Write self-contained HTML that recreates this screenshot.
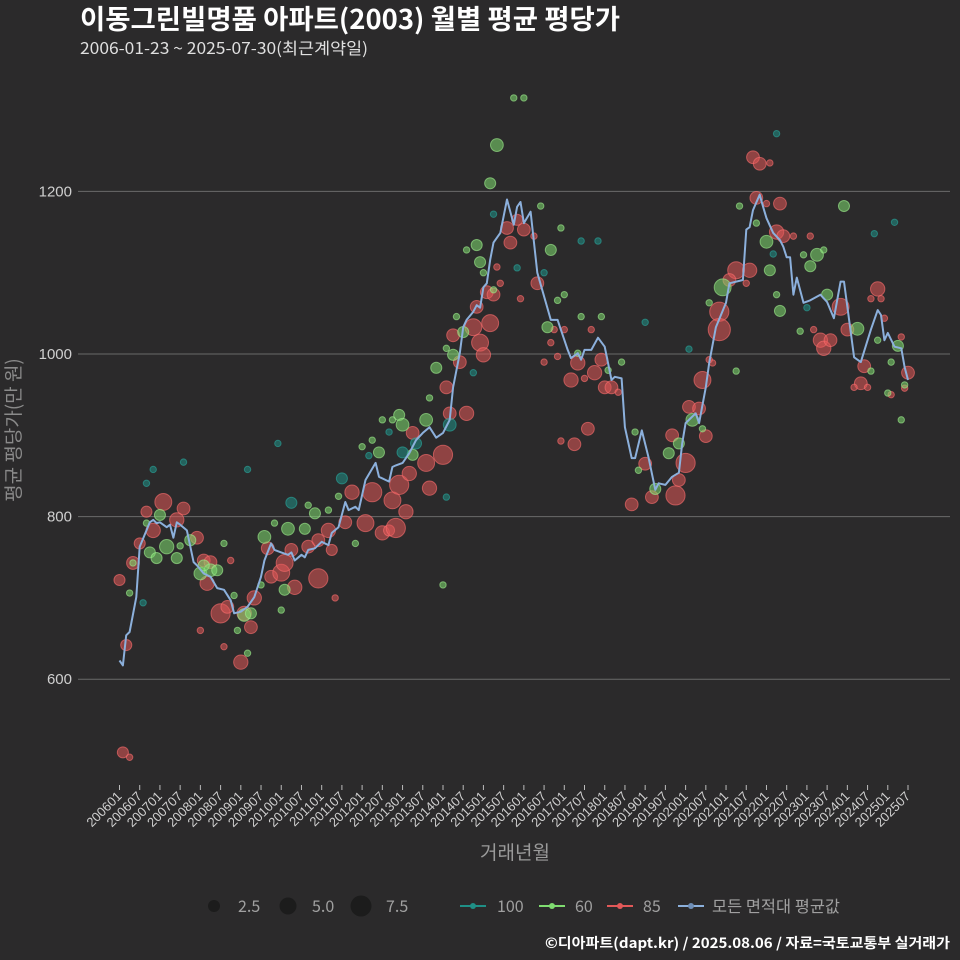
<!DOCTYPE html>
<html><head><meta charset="utf-8">
<style>
html,body{margin:0;padding:0;background:#2b2a2b;}
svg{display:block;font-family:"Liberation Sans","Noto Sans CJK KR",sans-serif;}
</style></head>
<body>
<svg id="chart" width="960" height="960" viewBox="0 0 960 960">
<rect x="0" y="0" width="960" height="960" fill="#2b2a2b"/>
<text x="80" y="29" fill="#ffffff" font-size="27" font-weight="bold" font-family="Noto Sans CJK KR, sans-serif" textLength="540" lengthAdjust="spacingAndGlyphs">이동그린빌명품 아파트(2003) 월별 평균 평당가</text>
<text x="80" y="54" fill="#e0e0e0" font-size="16" font-family="Noto Sans CJK KR, sans-serif" textLength="288" lengthAdjust="spacingAndGlyphs">2006-01-23 ~ 2025-07-30(최근계약일)</text>
<g id="grid"></g>
<g id="yticks"></g>
<g id="xticks"></g>
<g id="bubbles"></g>
<g id="avgline"></g>
<text x="20" y="430" fill="#8a8a8a" font-size="19" text-anchor="middle" transform="rotate(-90 20 430)" font-family="Noto Sans CJK KR, sans-serif">평균 평당가(만 원)</text>
<text x="515" y="859" fill="#9a9a9a" font-size="19" text-anchor="middle" font-family="Noto Sans CJK KR, sans-serif">거래년월</text>
<g id="legend" font-family="Noto Sans CJK KR, sans-serif" font-size="16" fill="#a0a0a0">
  <g><circle cx="214" cy="906" r="6" fill="#1c1c1c"/><text x="238" y="912">2.5</text></g>
  <g><circle cx="288" cy="906" r="8.5" fill="#1c1c1c"/><text x="312" y="912">5.0</text></g>
  <g><circle cx="361" cy="906" r="10.5" fill="#1c1c1c"/><text x="386" y="912">7.5</text></g>
  <g><line x1="460" y1="906" x2="486" y2="906" stroke="#1f8f86" stroke-width="2"/><circle cx="473" cy="906" r="3" fill="#1f8f86"/><text x="497" y="912">100</text></g>
  <g><line x1="539" y1="906" x2="565" y2="906" stroke="#7fdc70" stroke-width="2"/><circle cx="552" cy="906" r="3" fill="#7fdc70"/><text x="575" y="912">60</text></g>
  <g><line x1="607" y1="906" x2="633" y2="906" stroke="#e25858" stroke-width="2"/><circle cx="620" cy="906" r="3" fill="#e25858"/><text x="643" y="912">85</text></g>
  <g><line x1="678" y1="906" x2="704" y2="906" stroke="#8cb0dc" stroke-width="2"/><circle cx="691" cy="906" r="3" fill="#6f8fb8"/><text x="712" y="912" textLength="128" lengthAdjust="spacingAndGlyphs">모든 면적대 평균값</text></g>
</g>
<text x="950" y="948" fill="#ffffff" font-size="14" font-weight="bold" text-anchor="end" font-family="Noto Sans CJK KR, sans-serif" textLength="405" lengthAdjust="spacingAndGlyphs">©디아파트(dapt.kr) / 2025.08.06 / 자료=국토교통부 실거래가</text>
</svg>
<script>
// month index = months since 2006-01
const yTicks = [600, 800, 1000, 1200];
const xTickLabels = ["200601","200607","200701","200707","200801","200807","200901","200907","201001","201007","201101","201107","201201","201207","201301","201307","201401","201407","201501","201507","201601","201607","201701","201707","201801","201807","201901","201907","202001","202007","202101","202107","202201","202207","202301","202307","202401","202407","202501","202507"];
const avgMonths = [0,1,2,3,5,6,8,9,10,11,12,14,15,16,17,18,20,22,23,25,27,29,31,33,34,36,38,40,42,43,45,46,48,50,51,52,54,55,56,58,60,62,63,65,67,68,70,71,73,76,77,79,80,81,82,84,86,88,90,92,94,95,96,98,99,101,102,103,105,106,107,108,109,110,111,113,115,117,118,119,120,122,124,128,130,133,134,136,137,138,140,142,144,146,147,149,150,152,153,155,157,159,160,162,164,166,167,168,171,172,174,175,177,180,181,185,186,187,188,190,191,192,194,196,197,198,199,200,201,203,205,208,210,212,214,215,218,220,223,225,226,227,228,230,232,233,234];
const avgValues = [623,617,654,658,701,763,783,793,796,792,793,787,790,774,793,790,783,744,740,730,726,712,710,697,681,683,689,701,726,746,767,759,756,753,756,746,753,750,759,761,769,765,780,787,818,808,812,808,845,866,849,845,843,861,863,866,878,894,903,910,897,900,903,919,959,1001,1033,1042,1052,1060,1057,1082,1087,1116,1137,1149,1190,1159,1181,1187,1161,1175,1100,1042,1042,1005,995,1001,993,1005,1005,1020,1009,968,972,970,910,872,872,906,873,833,841,839,849,854,890,915,927,915,959,989,1033,1063,1087,1091,1153,1156,1177,1196,1181,1167,1149,1140,1132,1119,1119,1073,1094,1063,1066,1073,1064,1044,1089,1089,996,990,1030,1054,1048,1017,1026,1009,1007,984,968];

const redMonths = [0,2,4,6,8,13,10,19,17,23,25,27,26,30,32,36,39,40,37,24,31,33,44,45,48,52,49,51,56,59,59,62,63,64,67,69,73,75,78,80,81,82,83,85,86,87,91,92,96,97,98,103,99,101,105,107,108,110,106,109,111,115,116,112,113,120,118,123,124,119,129,132,128,126,130,136,134,141,138,143,144,146,148,140,139,135,131,152,156,158,164,165,166,168,169,172,174,173,178,178,183,187,181,176,175,186,188,190,193,189,196,192,195,197,200,206,208,209,211,214,216,225,223,226,221,220,218,222,227,232,234,229,233,205,1,3];
const redValues = [722,642,743,767,806,818,783,810,796,774,746,744,718,681,689,621,664,700,681,660,640,746,761,726,731,713,743,759,763,724,771,783,759,700,793,830,792,830,780,783,820,786,839,806,853,903,866,835,876,959,927,927,1023,990,1033,1014,999,1038,1058,1076,1073,1155,1137,1107,1087,1153,1165,1145,1087,1068,1030,1030,1014,990,997,989,968,977,970,993,959,959,953,1030,908,889,893,815,865,824,900,826,845,866,935,933,899,968,1052,1030,1103,1103,1091,989,993,1087,1242,1234,1235,1192,1185,1185,1150,1145,1145,1030,1017,1007,1017,1058,1030,1080,1068,1068,985,964,959,959,1044,1021,977,950,958,1145,510,504];
const redCounts = [3,3,4,3,3,7,5,4,5,4,4,4,5,9,4,5,4,5,5,1,1,1,4,4,7,5,7,4,4,9,4,5,3,1,4,5,7,9,5,3,7,9,9,5,5,4,7,5,9,4,4,5,4,4,7,7,5,7,4,4,4,4,4,1,1,4,3,1,4,1,1,1,1,1,1,5,5,5,1,4,4,4,1,1,4,4,1,4,4,4,4,9,4,9,4,4,4,7,9,12,7,5,4,1,1,1,4,4,1,4,4,1,5,4,1,1,5,5,4,7,4,5,1,1,4,4,1,1,1,1,4,1,1,1,3,1];

const greenMonths = [12,9,11,14,17,21,8,4,3,18,24,27,29,25,31,34,35,38,37,39,43,46,50,55,49,48,42,56,58,62,65,70,72,75,77,78,81,83,84,87,91,94,92,97,99,100,102,107,106,103,108,110,111,96,112,117,120,125,131,128,132,130,127,137,143,136,145,149,153,154,159,163,166,170,173,183,175,179,184,189,192,193,195,196,203,205,207,209,210,202,215,219,223,225,229,231,232,233,228];
const greenValues = [802,756,749,763,749,771,792,743,706,764,730,734,734,740,767,703,660,632,679,681,775,792,785,785,710,685,716,814,804,808,825,767,886,894,879,919,919,925,913,876,919,983,946,1007,999,1046,1027,1113,1134,1128,1100,1210,1079,716,1257,1315,1315,1182,1155,1128,1073,1066,1033,1046,1046,1001,980,990,904,857,834,878,890,919,908,979,1063,1082,1182,1161,1138,1103,1073,1053,1122,1108,1122,1128,1073,1028,1182,1031,979,1017,990,1010,919,962,952];
const greenCounts = [3,3,3,5,3,3,1,1,1,1,4,4,3,3,1,1,1,1,4,3,4,1,4,3,3,1,1,1,3,1,1,1,1,1,3,1,1,3,4,3,4,3,1,1,3,1,3,3,3,1,1,3,1,1,4,1,1,1,1,3,1,1,3,1,1,1,1,1,1,1,3,3,3,4,1,1,1,7,1,1,4,3,1,3,1,3,4,1,3,1,3,4,1,1,1,3,1,1,1];

const tealMonths = [7,8,10,19,38,47,51,66,74,80,84,88,98,97,105,111,118,126,137,142,156,169,194,195,204,224,230];
const tealValues = [694,841,858,867,858,890,817,847,875,904,879,890,913,824,977,1172,1106,1100,1139,1139,1039,1006,1123,1271,1057,1148,1162];
const tealCounts = [1,1,1,1,1,1,3,3,1,1,3,3,4,1,1,1,1,1,1,1,1,1,1,1,1,1,1];

const NS = "http://www.w3.org/2000/svg";
const X0 = 119.5, X1 = 908, M1 = 234;
function xScale(m){ return X0 + (X1 - X0) * m / M1; }
function yScale(v){ return 354 - (v - 1000) * (162.6 / 200); }
function rScale(n){ return 3.2 * Math.sqrt(n); }
function mk(tag, attrs, parent){
  const e = document.createElementNS(NS, tag);
  for (const k in attrs) e.setAttribute(k, attrs[k]);
  parent.appendChild(e);
  return e;
}

const grid = document.getElementById('grid');
const yt = document.getElementById('yticks');
yTicks.forEach(v => {
  const l = mk('line', {x1: 78, x2: 950, y1: yScale(v), y2: yScale(v), stroke: '#6a6a6a', 'stroke-width': 1}, grid);
  
  
  const t = mk('text', {x: 72, y: yScale(v) + 5, fill: '#cfcfcf', 'font-size': 15, 'text-anchor': 'end'}, yt);
  t.textContent = v;
  
  
});

const xt = document.getElementById('xticks');
xTickLabels.forEach((lab, i) => {
  const m = i * 6;
  const x = xScale(m);
  const tk = mk('line', {x1: x, x2: x, y1: 785, y2: 790, stroke: '#bbbbbb', 'stroke-width': 1}, xt);
  
  
  const t = mk('text', {x: x + 3, y: 797, fill: '#d0d0d0', 'font-size': 13, 'text-anchor': 'end', transform: 'rotate(-45 ' + (x + 3) + ' 797)'}, xt);
  t.textContent = lab;
  
  
});

const bub = document.getElementById('bubbles');
function drawSeries(months, values, counts, fill, stroke, name){
  const g = mk('g', {}, bub);
  
  
  months.forEach((m, i) => {
    const c = mk('circle', {cx: xScale(m), cy: yScale(values[i]), r: rScale(counts[i]), fill: fill, 'fill-opacity': 0.55, stroke: stroke, 'stroke-opacity': 0.6, 'stroke-width': 1}, g);
    
    
  });
}
drawSeries(redMonths, redValues, redCounts, '#e25858', '#ff7070', '85');
drawSeries(greenMonths, greenValues, greenCounts, '#7fdc70', '#a0f090', '60');
drawSeries(tealMonths, tealValues, tealCounts, '#1f8f86', '#2aa89e', '100');

const al = document.getElementById('avgline');
const pts = avgMonths.map((m, i) => xScale(m).toFixed(1) + ',' + yScale(avgValues[i]).toFixed(1)).join(' ');
const pl = mk('polyline', {points: pts, fill: 'none', stroke: '#8cb0dc', 'stroke-width': 2, 'stroke-linejoin': 'round'}, al);


</script>
</body></html>
